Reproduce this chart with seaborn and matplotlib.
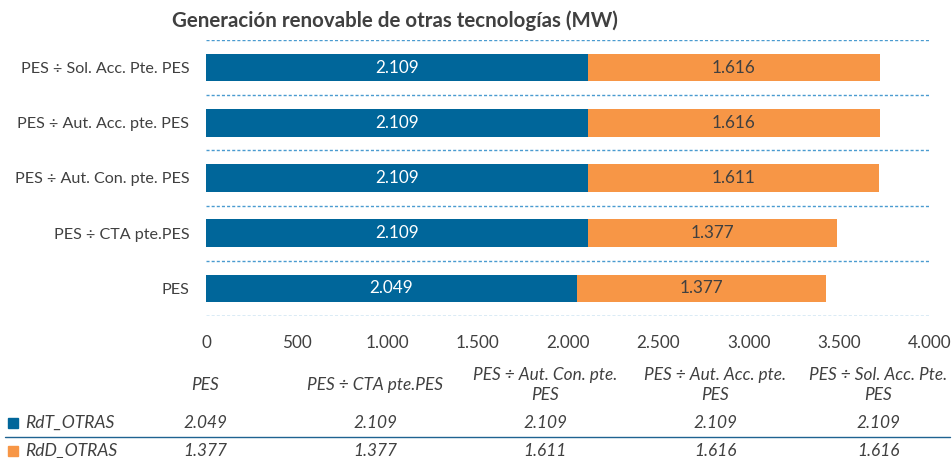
import matplotlib
matplotlib.use("Agg")
import matplotlib.pyplot as plt
import seaborn as sns
import pandas as pd

categories = ["PES", "PES ÷ CTA pte.PES", "PES ÷ Aut. Con. pte. PES",
              "PES ÷ Aut. Acc. pte. PES", "PES ÷ Sol. Acc. Pte. PES"]
table_headers = ["PES", "PES ÷ CTA pte.PES", "PES ÷ Aut. Con. pte.\nPES",
                 "PES ÷ Aut. Acc. pte.\nPES", "PES ÷ Sol. Acc. Pte.\nPES"]
rdt_otras = [2049, 2109, 2109, 2109, 2109]
rdd_otras = [1377, 1377, 1611, 1616, 1616]
series_names = ["RdT_OTRAS", "RdD_OTRAS"]
x_ticks = [0, 500, 1000, 1500, 2000, 2500, 3000, 3500, 4000]
title = "Generación renovable de otras tecnologías (MW)"

BLUE = "#00669A"
ORANGE = "#F79646"
TXT = "#404040"
GRID = "#4A9BD0"

sns.set_theme(style="white")
plt.rcParams["font.family"] = ["Lato", "DejaVu Sans"]

def fmt(v):
    return f"{v:,.0f}".replace(",", ".")

df = pd.DataFrame({"cat": categories, "rdt": rdt_otras, "rdd": rdd_otras})
df["total"] = df["rdt"] + df["rdd"]
order = categories[::-1]

W, H = 953, 458
fig = plt.figure(figsize=(W / 100, H / 100), dpi=100)
ax = fig.add_axes([206 / W, 1 - 316 / H, 724 / W, 276 / H])

sns.barplot(data=df, y="cat", x="total", order=order, color=ORANGE,
            width=0.5, saturation=1, ax=ax, orient="h", linewidth=0)
sns.barplot(data=df, y="cat", x="rdt", order=order, color=BLUE,
            width=0.5, saturation=1, ax=ax, orient="h", linewidth=0)

ax.set_xlim(0, 4000)
ax.set_ylim(len(order) - 0.5, -0.5)
for yb in [i - 0.5 for i in range(len(order) + 1)]:
    ax.axhline(yb, color=GRID, lw=1.0, ls=(0, (2.2, 1.5)), zorder=0)

for i, cat in enumerate(order):
    row = df[df["cat"] == cat].iloc[0]
    ax.text(row["rdt"] / 2, i, fmt(row["rdt"]), ha="center", va="center",
            color="white", fontsize=12.3)
    ax.text(row["rdt"] + row["rdd"] / 2, i, fmt(row["rdd"]), ha="center",
            va="center", color=TXT, fontsize=12.3)

ax.set_xticks(x_ticks)
ax.set_xticklabels([fmt(v) for v in x_ticks], fontsize=12.3, color=TXT)
ax.tick_params(axis="x", length=0, pad=14)
ax.tick_params(axis="y", length=0, pad=12, labelsize=11.6, labelcolor=TXT)
ax.set_xlabel("")
ax.set_ylabel("")
for s in ax.spines.values():
    s.set_visible(False)

fig.text(172 / W, 1 - 21 / H, title, ha="left", va="center",
         fontsize=14.8, fontweight="bold", color=TXT)

# data table
col_x = [205, 375, 545, 715, 878]
for x, h in zip(col_x, table_headers):
    fig.text(x / W, 1 - 385 / H, h, ha="center", va="center", fontsize=12.4,
             style="italic", color=TXT, linespacing=1.3)
row_y = [423, 451]
row_colors = [BLUE, ORANGE]
for y, name, vals, c in zip(row_y, series_names, [rdt_otras, rdd_otras], row_colors):
    fig.patches.append(plt.Rectangle((8 / W, 1 - (y + 5) / H), 10 / W, 10 / H,
                                     transform=fig.transFigure, color=c))
    fig.text(25 / W, 1 - y / H, name, ha="left", va="center", fontsize=12.6,
             style="italic", color=TXT)
    for x, v in zip(col_x, vals):
        fig.text(x / W, 1 - y / H, fmt(v), ha="center", va="center",
                 fontsize=12.4, style="italic", color=TXT)
fig.add_artist(plt.Line2D([5 / W, 950 / W], [1 - 437 / H, 1 - 437 / H],
                          transform=fig.transFigure, color="#1F6391", lw=1.0))

fig.savefig("out.png", dpi=100, facecolor="white")
